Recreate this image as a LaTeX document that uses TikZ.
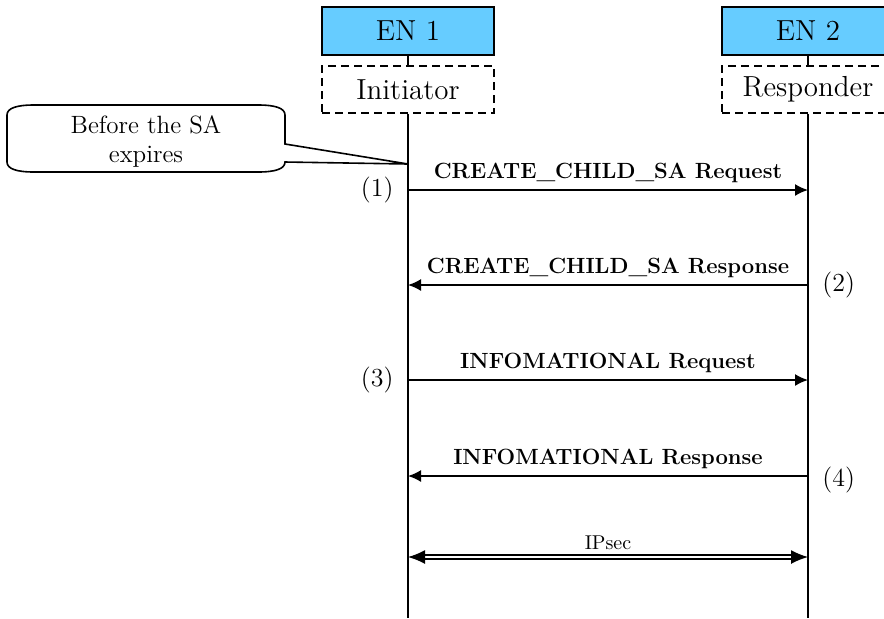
\documentclass[tikz,border=0pt]{standalone}
\usepackage{xcolor}
\usepackage{tikz}
\usetikzlibrary {positioning}
\usetikzlibrary{arrows.meta}
\definecolor{enblue}{RGB}{102,204,255}
\tikzset{edge/.style = {-{Latex[length=6.5pt,width=6pt]}}}

\begin{document}
\begin{tikzpicture}[x=0.5pt,y=-0.5pt,line width=0.8pt,
    en node/.style={rectangle,draw,fill=enblue,minimum width=86pt,minimum height=24pt,font=\fontsize{14.5}{17}\selectfont},
    role node/.style={rectangle,draw,dash pattern=on 4pt off 2.5pt,minimum width=86pt,minimum height=23.5pt,font=\fontsize{14.5}{17}\selectfont},
    msg/.style={font=\bfseries\fontsize{11}{13}\selectfont},
    num/.style={font=\fontsize{13}{15}\selectfont}]
                    \useasboundingbox (0,0) rectangle (884,618);
                    \node[en node] (en1) at (408,31) {EN 1};
                    \node[role node] (ini) at (408,89.5) {Initiator};
                    \node[en node] (en2) at (808,31) {EN 2};
                    \node[role node] (res) at (808,89.5) {Responder};
                    \coordinate (ini end) at (408,618);
                    \coordinate (res end) at (808,618);

                    \draw (en1) -- (ini);
                    \draw (en2) -- (res);
                    \draw (ini) -- (ini end);
                    \draw (res) -- (res end);

                    % messages
                    \coordinate (m1a) at (408,190);
                    \coordinate (m1b) at (808,190);
                    \coordinate (m2a) at (408,285);
                    \coordinate (m2b) at (808,285);
                    \coordinate (m3a) at (408,380);
                    \coordinate (m3b) at (808,380);
                    \coordinate (m4a) at (408,476);
                    \coordinate (m4b) at (808,476);
                    \coordinate (ipa) at (408,557);
                    \coordinate (ipb) at (808,557);

                    \draw[edge] (m1a) -- node[above,msg] {CREATE\_CHILD\_SA Request} (m1b);
                    \draw[edge] (m2b) -- node[above,msg] {CREATE\_CHILD\_SA Response} (m2a);
                    \draw[edge] (m3a) -- node[above,msg] {INFOMATIONAL Request} (m3b);
                    \draw[edge] (m4b) -- node[above,msg] {INFOMATIONAL Response} (m4a);
                    \draw[{Latex[length=8.5pt,width=7pt]}-{Latex[length=8.5pt,width=7pt]},double,double distance=1.2pt,line width=0.7pt] (ipa) -- node[above,font=\fontsize{10}{12}\selectfont] {IPsec} (ipb);

                    \node[num,left=3.5pt of m1a] (n1) {(1)};
                    \node[num,right=3.5pt of m2b] (n2) {(2)};
                    \node[num,left=3.5pt of m3a] (n3) {(3)};
                    \node[num,right=3.5pt of m4b,yshift=-2pt] (n4) {(4)};

                    % callout
                    \coordinate (tip) at (408,164);
                    \draw (tip) -- (285,144) -- (285,115) .. controls (285,108) and (275,105) .. (258,105) -- (34,105)
                          .. controls (17,105) and (7,108) .. (7,115) -- (7,162) .. controls (7,169) and (17,172) .. (34,172)
                          -- (258,172) .. controls (275,172) and (285,169) .. (285,162) -- cycle;
                    \node[align=center,font=\fontsize{12.5}{14.5}\selectfont] (memo) at (146,141) {Before the SA\\expires};
                \end{tikzpicture}
\end{document}
